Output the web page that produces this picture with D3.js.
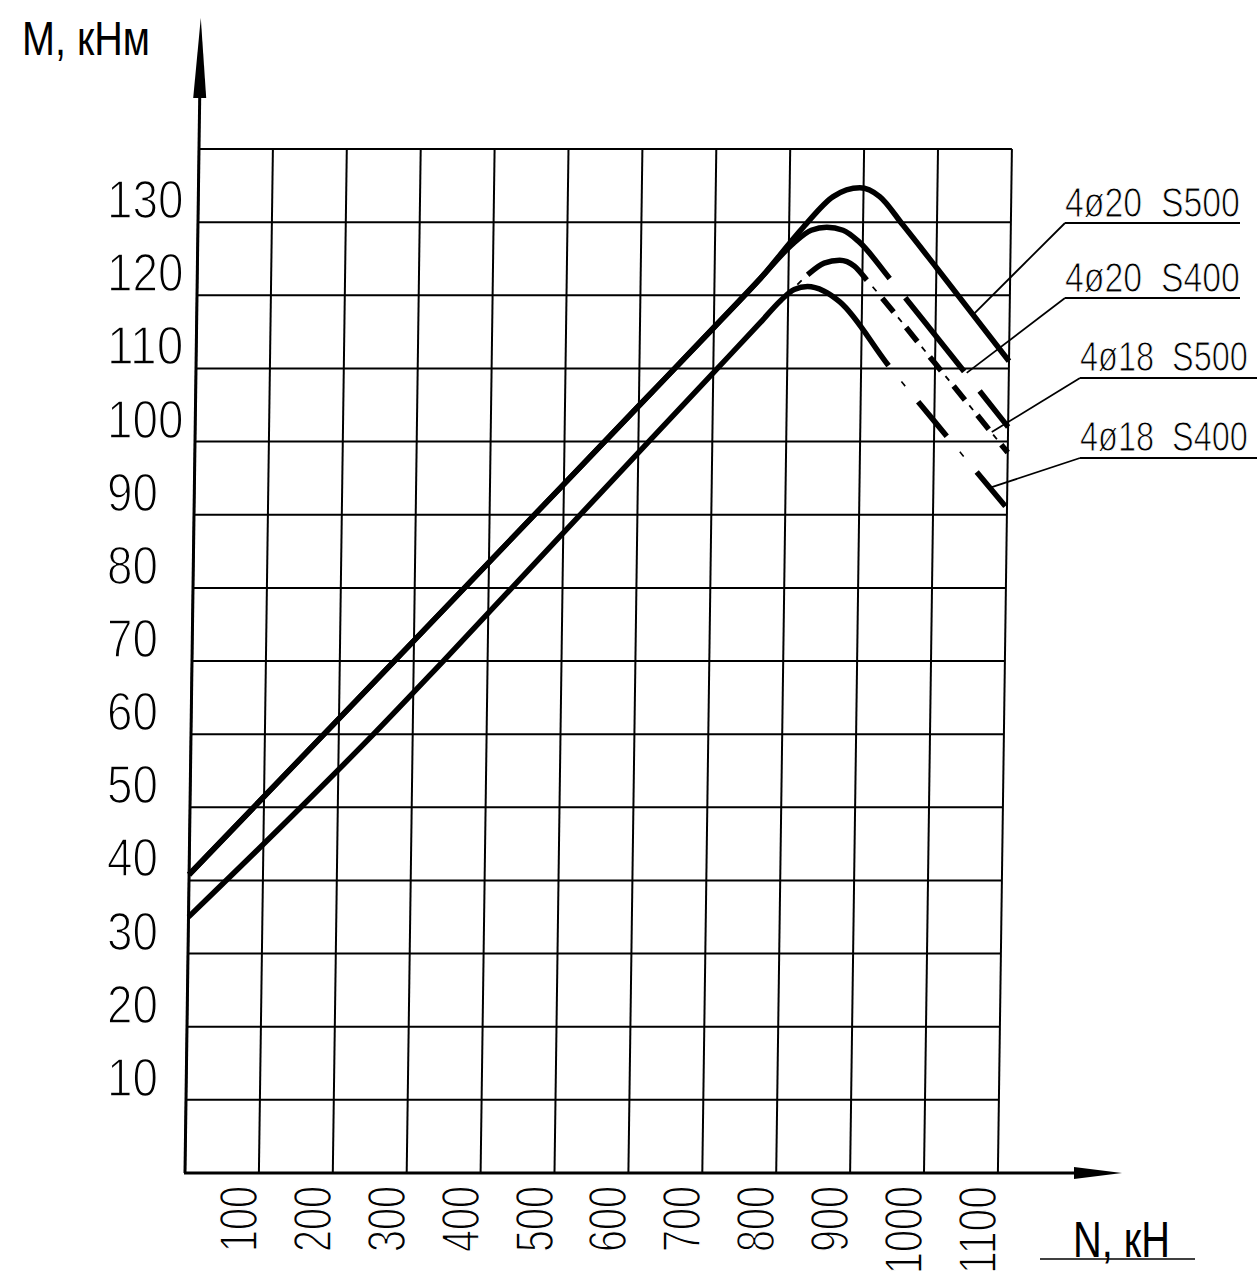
<!DOCTYPE html>
<html><head><meta charset="utf-8">
<script src="https://cdn.jsdelivr.net/npm/d3@7"></script>
<style>
html,body{margin:0;padding:0;background:#fff;}
svg{display:block;background:#fff;}
text{font-family:"Liberation Sans","Arial",sans-serif;fill:#000;white-space:pre;}
</style></head><body>
<svg id="chart" width="1257" height="1275"></svg>
<script>
// ---- data ----
const nTicks = [100,200,300,400,500,600,700,800,900,1000,1100];
const mTicks = [10,20,30,40,50,60,70,80,90,100,110,120,130];
const gridN = [0,100,200,300,400,500,600,700,800,900,1000,1100];
const gridM = [10,20,30,40,50,60,70,80,90,100,110,120,130,140];

const seriesNames = ["4ø20  S500","4ø20  S400","4ø18  S500","4ø18  S400"];
const s20_500 = [[0,40.8],[300,72.8],[600,104.9],[700,115.6],[762,122.3],[819,129.3],[859,133.5],[895,134.7],[922,133.5],[954,129.6],[1000,123.8],[1100,111]];
const s20_400 = [[0,40.8],[300,72.8],[600,104.9],[700,115.6],[762,122.3],[806,127.1],[830,128.9],[851,129.3],[873,128.9],[895,127.3],[937,122.3],[1000,114.5],[1100,102]];
const s18_500 = [[806,120.8],[826,122.8],[848,124.4],[869,124.8],[889,124],[906,122.1],[1000,110.7],[1100,98.5]];
const s18_400 = [[0,35],[150,50],[247,60],[340,70],[550,93],[700,109.4],[763,116.3],[790,119.3],[808,120.8],[826,121.2],[848,120.6],[870,119.1],[937,110.4],[1000,102.8],[1100,90.9]];
const leaderTargets = [[1050,117.3],[1043,109.4],[1078,101.3],[1077,93.7]];

// ---- layout ----
const svg = d3.select("#chart");
const Y0 = 1173;
const x = d3.scaleLinear().domain([0,1100]).range([185, 185 + 1100*0.739]);
const y = d3.scaleLinear().domain([0,140]).range([Y0, Y0 - 140*7.314]);
const K = 14/1024; // skew of the vertical lines in the drawing
const skewDeg = -Math.atan(K)*180/Math.PI;
const sk = (px,py) => [px - K*(py - Y0), py];

const g = svg.append("g").attr("transform",`translate(0,${Y0}) skewX(${skewDeg}) translate(0,${-Y0})`);

// grid
g.selectAll(".vg").data(gridN).join("line")
  .attr("x1",d=>x(d)).attr("x2",d=>x(d)).attr("y1",y(0)).attr("y2",y(140))
  .attr("stroke","#000").attr("stroke-width",2);
g.selectAll(".hg").data(gridM).join("line")
  .attr("x1",x(0)).attr("x2",x(1100)).attr("y1",d=>y(d)).attr("y2",d=>y(d))
  .attr("stroke","#000").attr("stroke-width",2);

// y axis with arrow
g.append("line").attr("x1",x(0)).attr("x2",x(0)).attr("y1",y(0)).attr("y2",60)
  .attr("stroke","#000").attr("stroke-width",3);
g.append("path").attr("d",`M${x(0)-6.5},98 L${x(0)},18 L${x(0)+6.5},98 Z`).attr("fill","#000");

// x axis with arrow
svg.append("line").attr("x1",x(0)-1).attr("x2",1090).attr("y1",Y0).attr("y2",Y0)
  .attr("stroke","#000").attr("stroke-width",3.2);
svg.append("path").attr("d",`M1074,${Y0-6} L1122,${Y0} L1074,${Y0+6} Z`).attr("fill","#000");

// curves
const line = d3.line().x(d=>x(d[0])).y(d=>y(d[1])).curve(d3.curveMonotoneX);
function drawPath(data, w){
  return g.append("path").attr("d",line(data)).attr("fill","none")
    .attr("stroke","#000").attr("stroke-width",w).attr("stroke-linecap","butt").attr("stroke-linejoin","round");
}
function lenAtN(p, n){
  const tx = x(n); let lo=0, hi=p.node().getTotalLength();
  for(let i=0;i<40;i++){const mid=(lo+hi)/2; if(p.node().getPointAtLength(mid).x<tx) lo=mid; else hi=mid;}
  return (lo+hi)/2;
}
function dashArr(iv,total){
  const a=[0]; let pos=0;
  iv.forEach(([s,e])=>{a.push(Math.max(0,s-pos)); a.push(Math.max(0,e-s)); pos=e;});
  a.push(total-pos+20); return a.join(" ");
}
function pattern(start, total, firstGap, dash, gap){
  const iv=[], gaps=[]; let p=start+firstGap; gaps.push([start,p]);
  while(p<total){iv.push([p,Math.min(p+dash,total)]); gaps.push([p+dash,p+dash+gap]); p+=dash+gap;}
  return {iv, gaps: gaps.filter(q=>q[1]<total)};
}

// 4ø20 S500 solid
drawPath(s20_500, 5.5);

// 4ø20 S400: solid then long dashes
{
  const p = drawPath(s20_400, 5.5); const T=p.node().getTotalLength();
  const L = lenAtN(p, 937);
  const pt = pattern(L, T, 25, 95, 25);
  p.attr("stroke-dasharray", dashArr([[0,L], ...pt.iv], T));
}
// 4ø18 S400: solid then dashes, thin marks in gaps
{
  const p = drawPath(s18_400, 5.5); const T=p.node().getTotalLength();
  const L = lenAtN(p, 937);
  const pt = pattern(L, T, 47, 45, 47);
  p.attr("stroke-dasharray", dashArr([[0,L], ...pt.iv], T));
  const q = drawPath(s18_400, 1.6);
  q.attr("stroke-dasharray", dashArr(pt.gaps.map(g=>[(g[0]+g[1])/2-3,(g[0]+g[1])/2+3]), T));
}
// 4ø18 S500: dash-dot
{
  const p = drawPath(s18_500, 5.5); const T=p.node().getTotalLength();
  const A = lenAtN(p, 826), B = lenAtN(p, 906), D0 = lenAtN(p, 815);
  const pt = pattern(B, T, 24, 18, 20);
  p.attr("stroke-dasharray", dashArr([[A,B], ...pt.iv], T));
  const centers = [D0, ...pt.gaps.map(g=>(g[0]+g[1])/2)];
  const q = drawPath(s18_500, 1.8);
  q.attr("stroke-dasharray", dashArr(centers.map(c=>[c-3,c+3]), T));
}

// text helper: narrow the glyphs horizontally to a target width (drafting font look)
function narrow(sel, tx, ty, target, rot){
  sel.each(function(d){
    const w = this.getComputedTextLength();
    const t = typeof target === "function" ? target(d) : target;
    const X = typeof tx === "function" ? tx(d) : tx;
    const Y = typeof ty === "function" ? ty(d) : ty;
    d3.select(this).attr("transform",`translate(${X},${Y})${rot?` rotate(${rot})`:""} scale(${t/w},1)`);
  });
}

// y tick labels
const yl = svg.selectAll(".yl").data(mTicks).join("text")
  .attr("font-size",53).attr("stroke","#fff").attr("stroke-width",1.5).text(d=>d);
narrow(yl, 107, d=>y(d)-4, d=>String(d).length*25.5);

// x tick labels (rotated)
const xl = svg.selectAll(".xl").data(nTicks).join("text")
  .attr("text-anchor","end").attr("font-size",53)
  .attr("stroke","#fff").attr("stroke-width",1.5).text(d=>d);
narrow(xl, d=>x(d)-2, 1186, d=>String(d).length*22, -90);

// axis titles
narrow(svg.append("text").attr("font-size",49).text("M, кНм"), 22, 55, 128);
narrow(svg.append("text").attr("font-size",50).text("N, кН"), 1073, 1257, 97);
svg.append("line").attr("x1",1040).attr("x2",1195).attr("y1",1259).attr("y2",1259).attr("stroke","#000").attr("stroke-width",1.5);

// legend labels with leaders
const legPos = [[1065,217,223,1240,175],[1065,292,298,1240,175],[1080,371,378,1257,168],[1080,451,458,1257,168]];
seriesNames.forEach((name,i)=>{
  const [lx,by,uy,ux2,tl] = legPos[i];
  const t = svg.append("text").attr("font-size",42)
    .attr("stroke","#fff").attr("stroke-width",1.0).text(name);
  narrow(t, lx, by, tl);
  svg.append("line").attr("x1",lx).attr("x2",ux2).attr("y1",uy).attr("y2",uy).attr("stroke","#000").attr("stroke-width",2);
  const tg = leaderTargets[i]; const [tx,ty] = sk(x(tg[0]), y(tg[1]));
  svg.append("line").attr("x1",lx).attr("y1",uy).attr("x2",tx).attr("y2",ty).attr("stroke","#000").attr("stroke-width",1.8);
});
</script>
</body></html>
